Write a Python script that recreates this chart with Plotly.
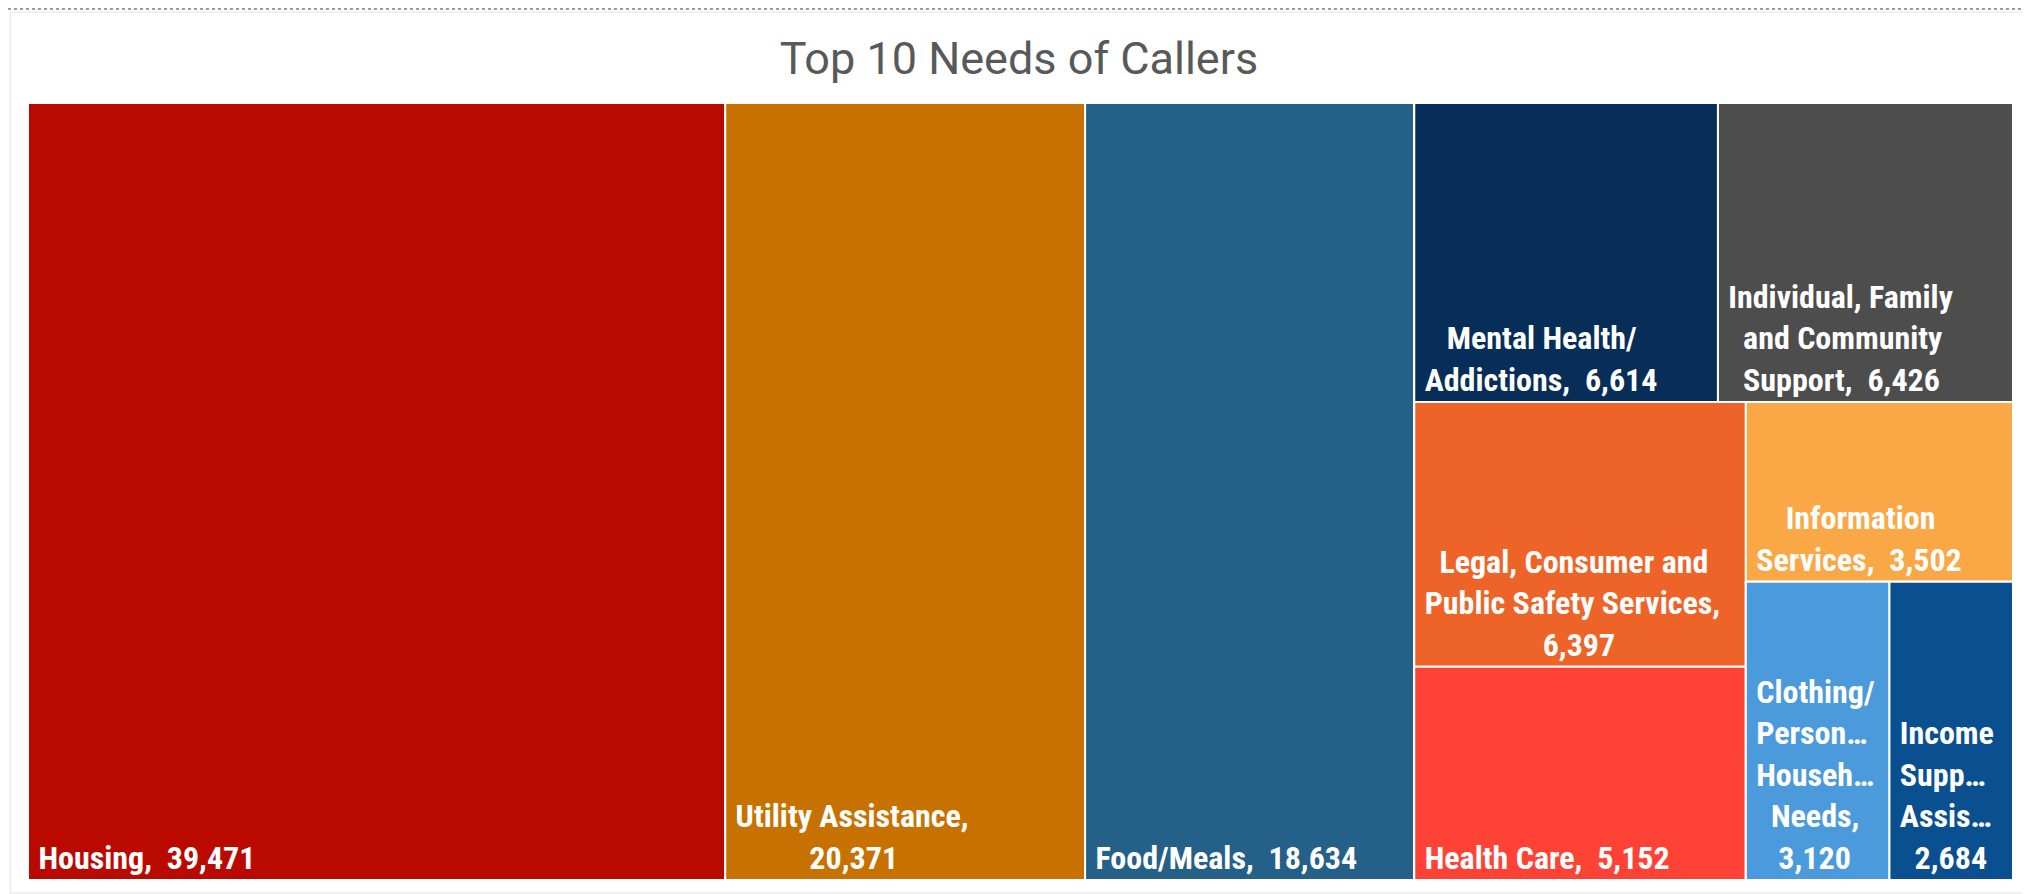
import plotly.graph_objects as go

# Top 10 needs of callers (leaf categories, in layout order)
categories = [
    "Housing",
    "Utility Assistance",
    "Food/Meals",
    "Mental Health/Addictions",
    "Individual, Family and Community Support",
    "Legal, Consumer and Public Safety Services",
    "Health Care",
    "Information Services",
    "Clothing/Personal/Household Needs",
    "Income Support/Assistance",
]
calls = [39471, 20371, 18634, 6614, 6426, 6397, 5152, 3502, 3120, 2684]

# label text as it is wrapped / cut in the tiles
shown_names = [
    "Housing,",
    "Utility Assistance,",
    "Food/Meals,",
    "Mental Health/<br>Addictions,",
    "Individual, Family<br>and Community<br>Support,",
    "Legal, Consumer and<br>Public Safety Services,",
    "Health Care,",
    "Information<br>Services,",
    "Clothing/<br>Person…<br>Househ…<br>Needs,",
    "Income<br>Supp…<br>Assis…",
]
value_break = [False, True, False, False, False, True, False, False, True, True]

colors = [
    "#BA0A00", "#C77200", "#256089", "#062E58", "#4D4D4D",
    "#EE6428", "#FF4236", "#FAA846", "#4B9ADB", "#0A4F90",
]

# invisible grouping used to reproduce the tile arrangement
leaf_group = ["", "", "", "r_top", "r_top", "r_left", "r_left", "r_right", "r_br", "r_br"]
groups = ["right", "r_top", "r_bot", "r_left", "r_right", "r_br"]
group_parent = ["", "right", "right", "r_bot", "r_bot", "r_right"]

NBSP = "\u00a0"


def em_width(s):
    # rough glyph widths for a bold condensed face, in em
    w = 0.0
    for ch in s:
        if ch in "ilj":
            w += 0.22
        elif ch in "tfr":
            w += 0.3
        elif ch in ",.":
            w += 0.2
        elif ch == "/":
            w += 0.33
        elif ch in " " + NBSP:
            w += 0.225
        elif ch == "…":
            w += 0.7
        elif ch.isdigit():
            w += 0.5
        elif ch in "MW":
            w += 0.75
        elif ch == "I":
            w += 0.25
        elif ch.isupper():
            w += 0.6
        elif ch in "mw":
            w += 0.72
        else:
            w += 0.48
    return w


def centre_lines(txt):
    # the lines of a wrapped label are centred on each other, as in the original
    lines = txt.split("<br>")
    widest = max(em_width(ln) for ln in lines)
    out = []
    for ln in lines:
        n = 1 + round((widest - em_width(ln)) / 2 / 0.225)
        out.append(NBSP * n + ln)
    return "<br>".join(out)


ids, labels, parents, values, texts, fills = [], [], [], [], [], []
for cat, v, name, brk, col, grp in zip(categories, calls, shown_names, value_break, colors, leaf_group):
    ids.append(cat)
    labels.append(cat)
    parents.append(grp)
    values.append(v)
    sep = "<br>" if brk else NBSP + " "
    texts.append(centre_lines(f"{name}{sep}{v:,}"))
    fills.append(col)
for g, p in zip(groups, group_parent):
    ids.append(g)
    labels.append("")
    parents.append(p)
    values.append(0)
    texts.append("")
    fills.append("#ffffff")

fig = go.Figure(go.Treemap(
    ids=ids,
    labels=labels,
    parents=parents,
    values=values,
    text=texts,
    textinfo="text",
    sort=False,
    branchvalues="remainder",
    tiling=dict(packing="slice-dice", pad=0),
    pathbar=dict(visible=False),
    marker=dict(colors=fills, line=dict(width=2, color="#ffffff"),
                pad=dict(t=0, l=0, r=0, b=0)),
    textposition="bottom left",
    textfont=dict(family="Roboto Condensed, Liberation Sans Narrow, Arial Narrow, DejaVu Sans Condensed, sans-serif",
                  size=32, color="#ffffff", weight=700),
    hoverinfo="skip",
))

fig.update_layout(
    title=dict(text="Top 10 Needs of Callers", x=0.498, xanchor="center", y=0.944, yanchor="middle",
               font=dict(family="Roboto, sans-serif", size=45, color="#595959")),
    margin=dict(l=20, r=25, t=95, b=22),
    paper_bgcolor="#ffffff",
    width=2030,
    height=894,
    shapes=[
        # card frame
        dict(type="rect", xref="paper", yref="paper", x0=-0.009, x1=1.0066, y0=-0.0167, y1=1.117,
             line=dict(color="#E3E3E3", width=1), fillcolor="rgba(0,0,0,0)", layer="below"),
        # dotted rule at the top
        dict(type="line", xref="paper", yref="paper", x0=-0.0101, x1=1.0086, y0=1.121, y1=1.121,
             line=dict(color="#9A9A9A", width=2, dash="dot")),
    ],
)

fig.write_html("out.html")
